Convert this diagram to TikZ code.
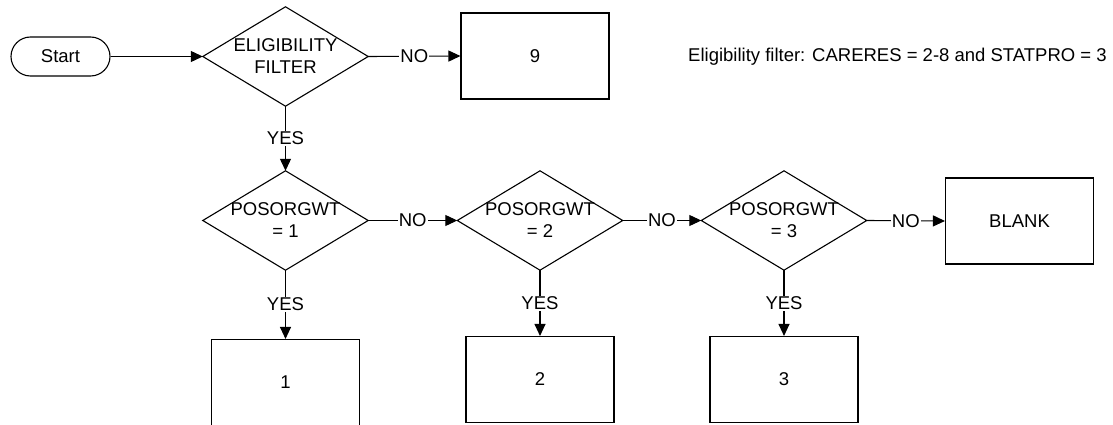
\documentclass[tikz,border=0pt]{standalone}
\usepackage{fontspec}
\setmainfont{Liberation Sans}
\usetikzlibrary{arrows.meta}
\tikzset{
  outcome/.style={draw,line width=1.1pt,minimum width=148pt,minimum height=86pt,inner sep=0pt},
  decision/.style={minimum width=165pt,minimum height=99pt,inner sep=0pt,align=center},
  flow/.style={line width=1.1pt,-{Triangle[length=12pt,width=11pt]}},
  answer/.style={fill=white,inner sep=1pt},
}
\begin{document}
\begin{tikzpicture}[x=1pt,y=-1pt,font=\fontsize{18.5}{22}\selectfont]
    \useasboundingbox (0,0) rectangle (1113,425);
    \node[draw,line width=1.1pt,rounded corners=19.5pt,minimum width=99pt,minimum height=39pt] (start) at (60.5,56.5) {Start};
    \node[decision] (elig) at (285.5,56.5) {ELIGIBILITY\\FILTER};
    \node[outcome] (nine) at (535,56) {9};
    \node[right,inner sep=0pt] (note) at (688,57) {Eligibility filter: CARERES = 2-8 and STATPRO = 3};
    \node[decision] (pos1) at (285.5,220.5) {POSORGWT\\= 1};
    \node[decision] (pos2) at (540,220.5) {POSORGWT\\= 2};
    \node[decision] (pos3) at (784,220.5) {POSORGWT\\= 3};
    \node[outcome] (blank) at (1019.5,221) {BLANK};
    \node[outcome] (one) at (285.5,382.5) {1};
    \node[outcome] (two) at (540,379.5) {2};
    \node[outcome] (three) at (784,379.5) {3};
    % diamond outlines
    \foreach \d in {elig,pos1,pos2,pos3}
        \draw[line width=1.1pt,line join=miter] (\d.north) -- (\d.east) -- (\d.south) -- (\d.west) -- cycle;
    \draw[flow] (start.east) -- (elig.west);
    \draw[flow] (elig.east) -- node[answer] {NO} (nine.west);
    \draw[flow] (elig.south) -- node[answer] {YES} (pos1.north);
    \draw[flow] (pos1.east) -- node[answer] {NO} (pos2.west);
    \draw[flow] (pos2.east) -- node[answer] {NO} (pos3.west);
    \draw[flow] (pos3.east) -- node[answer] {NO} (blank.west);
    \draw[flow] (pos1.south) -- node[answer] {YES} (one.north);
    \draw[flow] (pos2.south) -- node[answer] {YES} (two.north);
    \draw[flow] (pos3.south) -- node[answer] {YES} (three.north);
\end{tikzpicture}
\end{document}
